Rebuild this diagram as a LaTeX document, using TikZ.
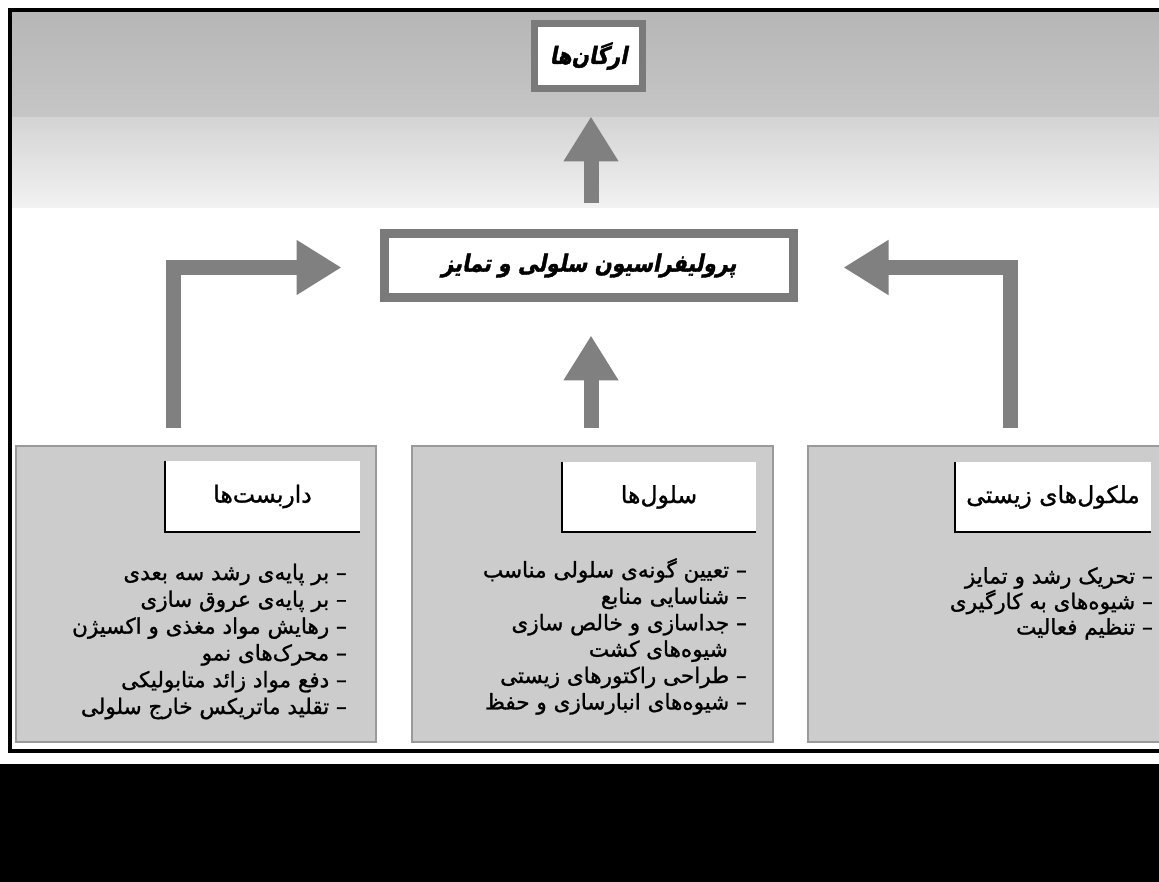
\documentclass[tikz,border=0pt]{standalone}
\usepackage{fontspec}
\usetikzlibrary{arrows.meta,calc}
\TeXXeTstate=1
\newfontfamily\fa[Script=Arabic,FakeBold=1.2]{DejaVu Sans}
\newfontfamily\fatitle[Script=Arabic,FakeSlant=0.2,FakeStretch=0.85,FakeBold=1.5]{DejaVu Sans Bold}
\definecolor{arrowgray}{HTML}{808080}
\definecolor{bordergray}{HTML}{7A7A7A}
\definecolor{panelgray}{HTML}{CCCCCC}
\definecolor{paneledge}{HTML}{9A9A9A}
\definecolor{bgA}{HTML}{B6B6B6}
\definecolor{bgB}{HTML}{C6C6C6}
\definecolor{bgC}{HTML}{D4D4D4}
\definecolor{bgD}{HTML}{F2F2F2}
\tikzset{
  headbox/.style={draw=bordergray, fill=white, inner sep=0pt, text=black,
    font=\fatitle\fontsize{24}{28}\selectfont},
  panel/.style={draw=paneledge, line width=1.5pt, fill=panelgray, inner sep=0pt},
  labelbox/.style={fill=white, inner sep=0pt, text=black,
    font=\fa\fontsize{23.5}{27}\selectfont},
  labeledge/.style={draw=black, line width=1.5pt},
  itemlist/.style={align=right, inner sep=0pt, text=black,
    font=\fa\fontsize{21.5}{#1}\selectfont},
  itemlist/.default=26.8,
  bigarrow/.style={draw=arrowgray, line width=15pt, line join=miter,
    -{Triangle[width=52pt,length=45pt]}}
}
\begin{document}
\begin{tikzpicture}[x=1pt,y=-1pt]
\useasboundingbox (0,0) rectangle (1159,882);
\clip (0,0) rectangle (1159,882);
% background bands
\shade[top color=bgA, bottom color=bgB] (12,12) rectangle (1159,118);
\shade[top color=bgC, bottom color=bgD] (12,118) rectangle (1159,208);
% frame and bottom band
\draw[line width=4pt] (1175,10) -- (10,10) -- (10,751) -- (1175,751);
\fill[black] (0,764) rectangle (1159,882);

% boxes
\node[headbox, line width=7pt, minimum width=108pt, minimum height=65pt] (organ) at (588.5,56)
  {\beginR ارگان^^^^200cها\endR};
\node[headbox, line width=9pt, minimum width=409pt, minimum height=64pt] (mid) at (589,265.5)
  {\beginR پرولیفراسیون سلولی و تمایز\endR};

\node[panel, minimum width=360pt, minimum height=296pt] (scaff) at (196,594) {};
\node[panel, minimum width=361pt, minimum height=296pt] (cells) at (592.5,594) {};
\node[panel, minimum width=361pt, minimum height=296pt] (mol) at (988.5,594) {};

\node[labelbox, minimum width=195pt, minimum height=71pt] (scaffT) at (262.5,496.5)
  {\beginR داربست^^^^200cها\endR};
\node[labelbox, minimum width=194pt, minimum height=70pt] (cellsT) at (659,497)
  {\beginR سلول^^^^200cها\endR};
\node[labelbox, minimum width=196pt, minimum height=70pt] (molT) at (1053,497)
  {\beginR ملکول^^^^200cهای زیستی\endR};
\draw[labeledge] (scaffT.north west) -- (scaffT.south west) -- (scaffT.south east);
\draw[labeledge] (cellsT.north west) -- (cellsT.south west) -- (cellsT.south east);
\draw[labeledge] (molT.north west) -- (molT.south west) -- (molT.south east);

\node[itemlist, anchor=north east] (scaffL) at (347,563.5) {%
\beginR – بر پایه^^^^200cی رشد سه بعدی\endR\\
\beginR – بر پایه^^^^200cی عروق سازی\endR\\
\beginR – رهایش مواد مغذی و اکسیژن\endR\\
\beginR – محرک^^^^200cهای نمو\endR\\
\beginR – دفع مواد زائد متابولیکی\endR\\
\beginR – تقلید ماتریکس خارج سلولی\endR};

\node[itemlist=26.4, anchor=north east] (cellsL) at (747,558) {%
\beginR – تعیین گونه^^^^200cی سلولی مناسب\endR\\
\beginR – شناسایی منابع\endR\\
\beginR – جداسازی و خالص سازی\endR\\
\beginR\hspace*{19pt}شیوه^^^^200cهای کشت\endR\\
\beginR – طراحی راکتورهای زیستی\endR\\
\beginR – شیوه^^^^200cهای انبارسازی و حفظ\endR};

\node[itemlist=25.5, anchor=north east] (molL) at (1153,567) {%
\beginR – تحریک رشد و تمایز\endR\\
\beginR – شیوه^^^^200cهای به کارگیری\endR\\
\beginR – تنظیم فعالیت\endR};

% arrows
\draw[bigarrow] ($(mid.north)+(2,-25.5)$) -- ($(organ.south)+(2.5,24.5)$);
\draw[bigarrow] ($(cells.north)+(-1.5,-17)$) -- ($(mid.south)+(2,33.5)$);
\draw[bigarrow] ($(scaff.north)+(-22.5,-17)$) |- ($(mid.west)+(-38.5,2)$);
\draw[bigarrow] ($(mol.north)+(21.5,-17)$) |- ($(mid.east)+(45.5,2)$);
\end{tikzpicture}
\end{document}
